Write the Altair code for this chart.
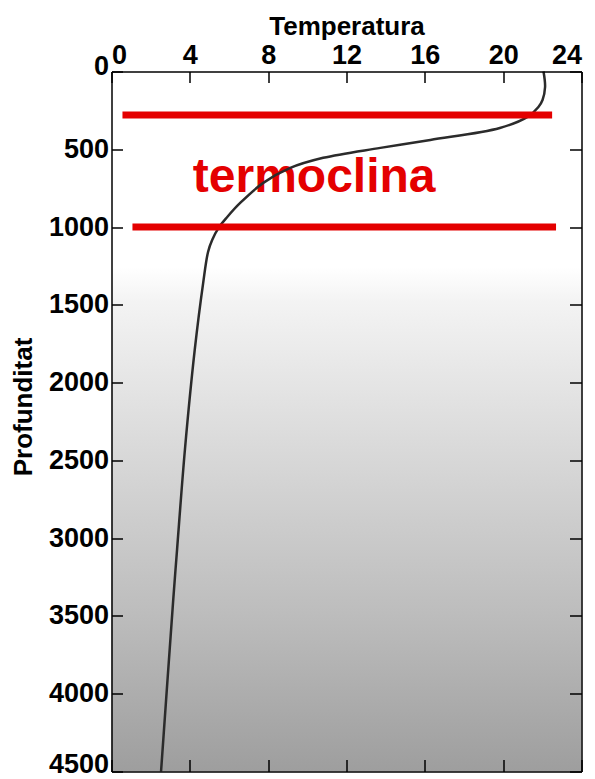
import altair as alt
import pandas as pd

# --- data ---
temp_ticks = [0, 4, 8, 12, 16, 20, 24]
depth_ticks = [0, 500, 1000, 1500, 2000, 2500, 3000, 3500, 4000, 4500]

profile_depth = [0, 100, 183, 228, 292, 363, 440, 491, 555, 620, 716, 845,
                 935, 999, 1083, 1160, 1360, 1790, 2430, 3070, 3400, 4500]
profile_temp = [22.06, 22.14, 22.01, 21.80, 21.24, 19.83, 16.28, 13.73, 10.81,
                9.13, 7.75, 6.57, 5.91, 5.50, 5.14, 4.93, 4.68, 4.25, 3.75,
                3.35, 3.15, 2.53]

line_depth = [280, 1000]
line_t_start = [0.56, 1.07]
line_t_end = [22.5, 22.7]

label_text = ["termoclina"]
label_temp = [10.35]
label_depth = [774]

RED = "#e40000"
FONT = "Liberation Sans"

profile = pd.DataFrame({"depth": profile_depth, "temp": profile_temp})
lines = pd.DataFrame({"depth": line_depth, "t0": line_t_start, "t1": line_t_end})
labels = pd.DataFrame({"text": label_text, "temp": label_temp, "depth": label_depth})
frame = pd.DataFrame({"t0": [temp_ticks[0]], "t1": [temp_ticks[-1]],
                      "d0": [depth_ticks[0]], "d1": [depth_ticks[-1]]})

xscale = alt.Scale(domain=[0, 24], nice=False, zero=False)
yscale = alt.Scale(domain=[0, 4500], reverse=True, nice=False, zero=False)

common = dict(domainColor="black", domainWidth=1.5, tickColor="black",
              tickWidth=1.5, grid=False, zindex=1, format="d",
              labelFont=FONT, labelFontWeight="bold", labelFontSize=27,
              labelColor="black", titleFont=FONT, titleFontWeight="bold",
              titleFontSize=26, titleColor="black")

x_top = alt.Axis(orient="top", values=temp_ticks, title="Temperatura",
                 tickSize={"expr": "-11"}, labelPadding=13, titlePadding=2,
                 **common)
y_left = alt.Axis(orient="left", values=depth_ticks, title="Profunditat",
                  tickSize={"expr": "-11"}, labelPadding=14, titlePadding=12,
                  titleY=335,
                  labelOffset={"expr": "datum.value == 0 ? -5 : (datum.value == 4500 ? -7 : 0)"},
                  **common)
x_bot = alt.Axis(orient="bottom", values=temp_ticks, title=None, labels=False,
                 tickSize={"expr": "-12"}, **common)
y_right = alt.Axis(orient="right", values=depth_ticks, title=None, labels=False,
                   tickSize={"expr": "-12"}, **common)

gradient = alt.Gradient(
    gradient="linear",
    stops=[alt.GradientStop(offset=0, color="#ffffff"),
           alt.GradientStop(offset=0.28, color="#ffffff"),
           alt.GradientStop(offset=0.33, color="#f3f3f3"),
           alt.GradientStop(offset=0.55, color="#d8d8d8"),
           alt.GradientStop(offset=0.78, color="#bcbcbc"),
           alt.GradientStop(offset=1, color="#9e9e9e")],
    x1=0, x2=0, y1=0, y2=1)

bg = alt.Chart(frame).mark_rect(fill=gradient).encode(
    x=alt.X("t0:Q", scale=xscale, axis=x_top),
    x2="t1:Q",
    y=alt.Y("d0:Q", scale=yscale, axis=y_left),
    y2="d1:Q",
)

txt = alt.Chart(labels).mark_text(
    font=FONT, fontWeight="bold", fontSize=48, color=RED,
    align="center", baseline="alphabetic").encode(
    x=alt.X("temp:Q", scale=xscale, axis=None),
    y=alt.Y("depth:Q", scale=yscale, axis=None),
    text="text:N",
)

curve = alt.Chart(profile).mark_line(
    color="#2b2b2b", strokeWidth=2.5, interpolate="catmull-rom").encode(
    x=alt.X("temp:Q", scale=xscale, axis=x_bot),
    y=alt.Y("depth:Q", scale=yscale, axis=y_right),
    order="depth:Q",
)

rules = alt.Chart(lines).mark_rule(color=RED, strokeWidth=7).encode(
    x=alt.X("t0:Q", scale=xscale, axis=None),
    x2="t1:Q",
    y=alt.Y("depth:Q", scale=yscale, axis=None),
)

chart = alt.layer(bg, txt, curve, rules).resolve_axis(
    x="independent", y="independent"
).properties(
    width=470, height=700,
    autosize=alt.AutoSizeParams(type="none"),
    padding={"left": 103.5, "top": 63.5, "right": 5, "bottom": 5},
).configure_view(stroke=None)

chart.save("out.html", embed_options={"renderer": "svg", "actions": False})
